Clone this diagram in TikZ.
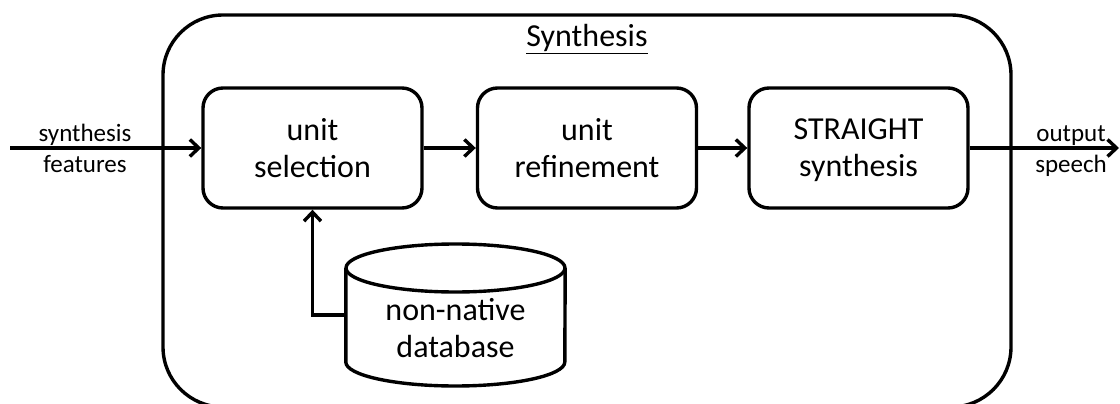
\documentclass[tikz,border=0pt]{standalone}
\usepackage{fontspec}
\setmainfont{Carlito}
\usetikzlibrary{arrows.meta}
% fixed line strut so every two-line label sits at the same height
\newcommand{\ls}{\rule[-4pt]{0pt}{29pt}}
\begin{document}
\begin{tikzpicture}[x=1pt,y=-1pt,
  thick line/.style={line width=3.4pt},
  block/.style={thick line, draw, rounded corners=20pt, minimum width=219pt,
    minimum height=120pt, align=center, font=\fontsize{32}{37}\selectfont, inner sep=0pt},
  flow/.style={thick line, -{Straight Barb[length=9pt,width=17pt]}},
  iolabel/.style={anchor=base, font=\fontsize{25}{30}\selectfont, inner sep=0pt},
]
\clip (0,0) rectangle (1120,404);
\fill[white] (0,0) rectangle (1120,404);

% enclosing synthesis stage
\draw[thick line, rounded corners=60pt] (163,15) rectangle (1011,407);
\node[anchor=base, inner sep=0pt, font=\fontsize{32}{37}\selectfont] (title) at (587,47) {\underline{Synthesis}};

% processing blocks
\node[block] (sel) at (312.5,148) {\ls unit\\\ls selection};
\node[block] (ref) at (587,148) {\ls unit\\\ls refinement};
\node[block] (str) at (858.5,148) {\ls STRAIGHT\\\ls synthesis};

% database cylinder (arc radii are absolute lengths, so angles follow the page)
\node[minimum width=219pt, minimum height=142pt, inner sep=0pt] (db) at (455.5,315) {};
\draw[thick line, fill=white]
  (db.west |- 0,268) -- (db.west |- 0,362)
  arc[start angle=180, end angle=360, x radius=109.5pt, y radius=24pt]
  -- (db.east |- 0,268);
\draw[thick line] (455.5,268) ellipse[x radius=109.5pt, y radius=24pt];
\node[align=center, inner sep=0pt, font=\fontsize{32}{37}\selectfont] (dbtext) at (455.5,328) {\ls non-native\\\ls database};

% input and output
\coordinate (in) at (10,148);
\coordinate (out) at (1119,148);
\node[iolabel] (inA) at (85,142) {synthesis};
\node[iolabel] (inB) at (85,172) {features};
\node[iolabel] (outA) at (1071,142) {output};
\node[iolabel] (outB) at (1071,172) {speech};

% connectors
\draw[flow] (in) -- (sel.west);
\draw[flow] (sel.east) -- (ref.west);
\draw[flow] (ref.east) -- (str.west);
\draw[flow] (str.east) -- (out);
\draw[flow] (db.west) -| (sel.south);
\end{tikzpicture}
\end{document}
